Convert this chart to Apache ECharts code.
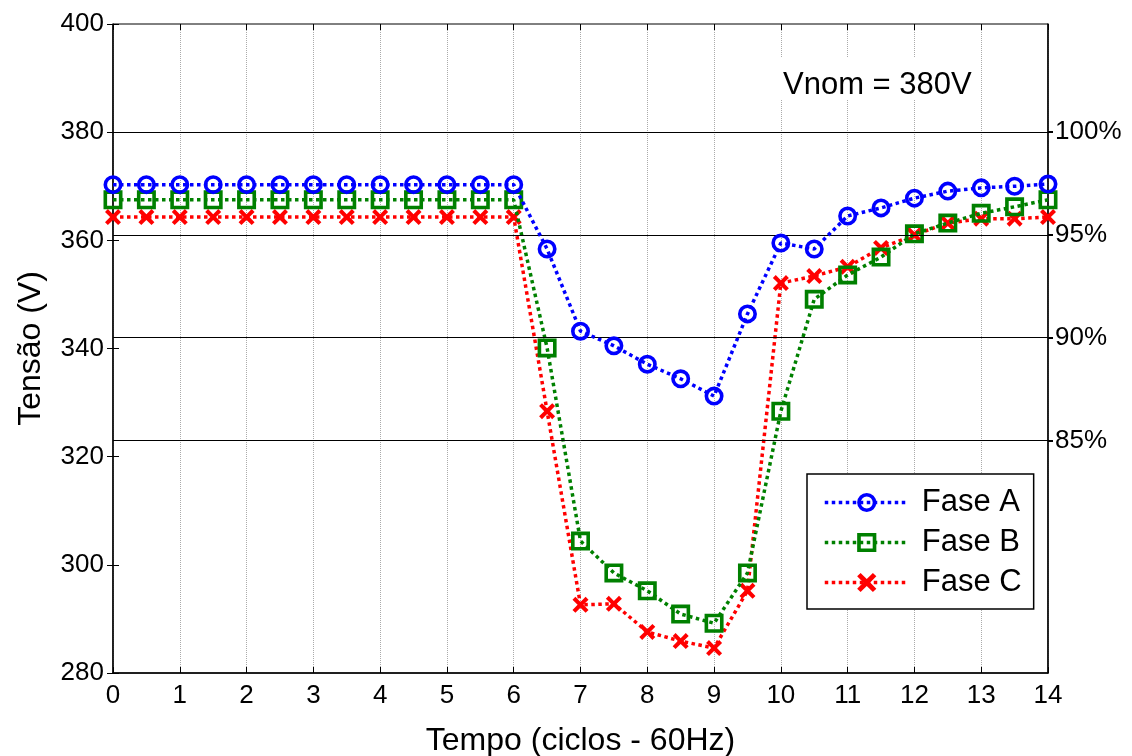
<!DOCTYPE html>
<html>
<head>
<meta charset="utf-8">
<script src="https://cdn.jsdelivr.net/npm/echarts@6/dist/echarts.min.js"></script>
<style>html,body{margin:0;padding:0;background:#fff;}#c{width:1132px;height:756px;}</style>
</head>
<body>
<div id="c"></div>
<script>
// ---- data ----
const tempo = [0,0.5,1,1.5,2,2.5,3,3.5,4,4.5,5,5.5,6,6.5,7,7.5,8,8.5,9,9.5,10,10.5,11,11.5,12,12.5,13,13.5,14];
const faseA = [370.3,370.3,370.3,370.3,370.3,370.3,370.3,370.3,370.3,370.3,370.3,370.3,370.3,
  358.4,343.2,340.5,337.1,334.4,331.2,346.4,359.5,358.4,364.5,366.0,367.8,369.1,369.7,370.0,370.4];
const faseB = [367.5,367.5,367.5,367.5,367.5,367.5,367.5,367.5,367.5,367.5,367.5,367.5,367.5,
  340.1,304.4,298.5,295.2,290.9,289.2,298.5,328.4,349.1,353.6,356.9,361.2,363.2,365.0,366.2,367.5];
const faseC = [364.3,364.3,364.3,364.3,364.3,364.3,364.3,364.3,364.3,364.3,364.3,364.3,364.3,
  328.4,292.6,292.8,287.6,285.9,284.6,295.2,352.1,353.4,355.1,358.6,361.0,363.2,364.0,364.0,364.3];
const seriesNames = ['Fase A','Fase B','Fase C'];
const percentTicks = [85,90,95,100];
const vNom = 380;
const annotation = 'Vnom = 380V';
const xTitle = 'Tempo (ciclos - 60Hz)';
const yTitle = 'Tensão (V)';

const FONT = '"Liberation Sans", Arial, sans-serif';
const pairs = arr => tempo.map((t,i)=>[t,arr[i]]);
const ringMarker = 'path://M0,5 A5,5 0 1,1 10,5 A5,5 0 1,1 0,5 Z M1.9,5 A3.1,3.1 0 1,0 8.1,5 A3.1,3.1 0 1,0 1.9,5 Z';
const squareMarker = 'path://M0,0 L10,0 L10,10 L0,10 Z M1.9,1.9 L1.9,8.1 L8.1,8.1 L8.1,1.9 Z';
const xMarker = 'path://M0,1.8 L1.8,0 L5,3.2 L8.2,0 L10,1.8 L6.8,5 L10,8.2 L8.2,10 L5,6.8 L1.8,10 L0,8.2 L3.2,5 Z';

const chart = echarts.init(document.getElementById('c'), null, {renderer:'canvas'});
chart.setOption({
  animation:false,
  backgroundColor:'#fff',
  grid:{left:113, right:84, top:24, bottom:83, outerBoundsMode:'none', containLabel:false,
        show:true, borderColor:'#000', borderWidth:1, backgroundColor:'transparent'},
  xAxis:[{
    type:'value', min:0, max:14, interval:1, position:'bottom',
    name:xTitle, nameLocation:'middle', nameGap:52,
    nameTextStyle:{fontFamily:FONT, fontSize:32, color:'#000'},
    axisLine:{show:true, onZero:false, lineStyle:{color:'#000', width:1.5}},
    axisTick:{show:true, inside:true, length:6, lineStyle:{color:'#000'}},
    axisLabel:{fontFamily:FONT, fontSize:26, color:'#000', margin:10},
    splitLine:{show:true, lineStyle:{color:'#aaa', type:'dotted', width:1}}
  },{
    type:'value', min:0, max:14, interval:1, position:'top',
    axisLine:{show:false},
    axisTick:{show:true, inside:true, length:6, lineStyle:{color:'#000'}},
    axisLabel:{show:false}, splitLine:{show:false}
  }],
  yAxis:[{
    type:'value', min:280, max:400, interval:20, position:'left',
    name:yTitle, nameLocation:'middle', nameGap:66,
    nameTextStyle:{fontFamily:FONT, fontSize:32, color:'#000'},
    axisLine:{show:true, onZero:false, lineStyle:{color:'#000', width:1.5}},
    axisTick:{show:true, inside:true, length:6, lineStyle:{color:'#000'}},
    axisLabel:{fontFamily:FONT, fontSize:26, color:'#000', margin:9},
    splitLine:{show:false}
  },{
    type:'value', min:280/vNom*100, max:400/vNom*100, position:'right',
    axisLine:{show:true, onZero:false, lineStyle:{color:'#000', width:1.5}},
    axisTick:{show:true, inside:false, length:5, customValues:percentTicks, lineStyle:{color:'#000', width:2}},
    axisLabel:{fontFamily:FONT, fontSize:26, color:'#000', margin:7, customValues:percentTicks, formatter:'{value}%'},
    splitLine:{show:false}
  },{
    type:'value', min:280, max:400, interval:20, position:'right',
    axisLine:{show:false},
    axisTick:{show:true, inside:true, length:6, lineStyle:{color:'#000'}},
    axisLabel:{show:false}, splitLine:{show:false}
  }],
  legend:{
    data:seriesNames, orient:'vertical', left:807, top:474,
    backgroundColor:'#fff', borderColor:'#000', borderWidth:1.5,
    padding:[13,12,11,16], itemWidth:84, itemHeight:24, itemGap:9,
    lineStyle:{width:3.5},
    textStyle:{fontFamily:FONT, fontSize:31, color:'#000', padding:[0,0,0,8]}
  },
  graphic:[
    {type:'rect', shape:{x:779, y:57, width:202, height:43}, style:{fill:'#fff'}, z:1, silent:true},
    {type:'text', x:783, y:85, z:2, silent:true,
     style:{text:annotation, fontFamily:FONT, fontSize:31, fill:'#000', textVerticalAlign:'middle'}}
  ],
  series:[
    {type:'line', name:'ref', yAxisIndex:1, data:[], silent:true, z:1,
     markLine:{silent:true, symbol:['none','none'], label:{show:false},
       lineStyle:{color:'#000', type:'solid', width:1},
       data:percentTicks.map(p=>({yAxis:p}))}},
    {type:'line', name:seriesNames[0], data:pairs(faseA), z:5,
     symbol:ringMarker, symbolSize:19, showAllSymbol:true, clip:false,
     lineStyle:{color:'#0000ff', type:'dotted', width:3.5},
     itemStyle:{color:'#0000ff', borderWidth:0}},
    {type:'line', name:seriesNames[1], data:pairs(faseB), z:4,
     symbol:squareMarker, symbolSize:19, showAllSymbol:true, clip:false,
     lineStyle:{color:'#008000', type:'dotted', width:3.5},
     itemStyle:{color:'#008000', borderWidth:0}},
    {type:'line', name:seriesNames[2], data:pairs(faseC), z:3,
     symbol:xMarker, symbolSize:16, showAllSymbol:true, clip:false,
     lineStyle:{color:'#ff0000', type:'dotted', width:3.5},
     itemStyle:{color:'#ff0000', borderWidth:0}}
  ]
});
</script>
</body>
</html>
